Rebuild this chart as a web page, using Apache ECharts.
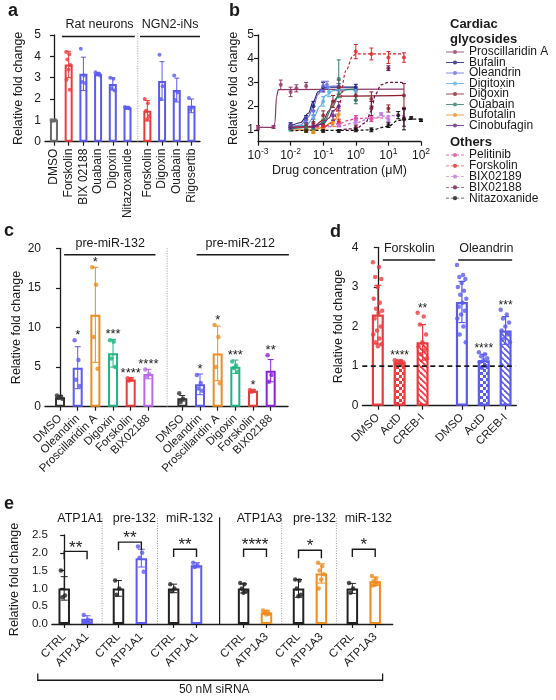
<!DOCTYPE html>
<html><head><meta charset="utf-8">
<script src="https://cdn.jsdelivr.net/npm/echarts@6/dist/echarts.min.js"></script>
<style>html,body{margin:0;padding:0;background:#fff}#c{width:556px;height:700px}</style>
</head><body><div id="c"></div>
<script>
// ================= DATA =================
// Panel a
const catsA = ['DMSO','Forskolin','BIX 02188','Ouabain','Digoxin','Nitazoxanide','Forskolin','Digoxin','Ouabain','Rigosertib'];
const meanA = [1.0, 3.62, 3.18, 3.18, 2.7, 1.6, 1.45, 2.85, 2.42, 1.68];
const sdA   = [0.02, 0.62, 0.78, 0.05, 0.28, 0.04, 0.48, 0.9, 0.56, 0.32];
const ptsA  = [[1.02,1.0,0.98,1.0],[4.2,4.1,3.85,3.6,3.37,2.9,2.43],[4.35,3.1,2.8,2.75],[3.25,3.2,3.15,3.1],
               [3.0,2.95,2.5,2.4],[1.63,1.6,1.58,1.55],[2.0,1.8,1.45,1.2,1.05],[4.07,2.6,2.0],[3.1,2.3,1.95],[2.05,1.6,1.5]];
const groupsA = ['Rat neurons','NGN2-iNs'];

// Panel b
const namesB = ['Proscillaridin A','Bufalin','Oleandrin','Digitoxin','Digoxin','Ouabain','Bufotalin','Cinobufagin',
                'Pelitinib','Forskolin','BIX02189','BIX02188','Nitazoxanide'];
const xTicksB = [0.001,0.01,0.1,1,10,100];
const yTicksB = [1,2,3,4,5];
// points: [concentration (µM), mean, sd]
const ptsProscillaridin = [[0.001,1.1,0.08],[0.003,1.12,0.06],[0.005,2.9,0.2],[0.01,2.6,0.2],[0.015,2.75,0.15],[0.03,2.85,0.15]];
const ptsBufalin       = [[0.01,1.2,0.1],[0.03,1.45,0.15],[0.05,2.0,0.2],[0.1,2.8,0.2],[0.3,2.8,0.15],[1,2.8,0.12]];
const ptsOleandrin     = [[0.01,1.15,0.1],[0.03,1.4,0.15],[0.05,1.8,0.2],[0.1,2.85,0.2],[0.13,2.9,0.15],[0.3,2.8,0.15]];
const ptsDigitoxin     = [[0.01,1.1,0.08],[0.05,1.5,0.15],[0.1,2.2,0.2],[0.15,2.6,0.2],[0.3,2.7,0.15],[1,2.65,0.1]];
const ptsDigoxin       = [[0.01,1.1,0.1],[0.03,1.15,0.1],[0.05,1.3,0.15],[0.1,1.6,0.2],[0.2,2.2,0.25],[0.3,2.8,0.3],[1,2.45,0.2],[3,2.3,0.3],[10,1.9,0.15],[30,2.45,0.5]];
const ptsOuabain       = [[0.01,1.05,0.1],[0.03,1.1,0.1],[0.05,1.0,0.1],[0.1,1.3,0.15],[0.3,3.15,0.8],[1,2.25,0.15]];
const ptsBufotalin     = [[0.03,0.95,0.05],[0.05,0.92,0.08],[0.1,1.1,0.1],[0.2,1.3,0.15],[0.3,1.65,0.25]];
const ptsCinobufagin   = [[0.01,1.1,0.08],[0.05,1.15,0.1],[0.1,1.2,0.1],[0.2,1.6,0.2],[0.3,2.0,0.2]];
const ptsPelitinib     = [[0.3,1.25,0.1],[1,1.5,0.1],[3,1.45,0.1]];
const ptsForskolinB    = [[0.1,1.15,0.1],[0.3,1.3,0.15],[1,4.3,0.3],[3,4.2,0.25],[10,4.05,0.25],[30,4.05,0.2]];
const ptsBIX02189      = [[0.3,1.2,0.08],[1,1.35,0.1],[6,1.67,0.05],[10,1.45,0.1]];
const ptsBIX02188      = [[1,1.1,0.1],[3,1.9,0.3],[10,3.6,0.1],[30,1.5,0.35]];
const ptsNitazoxanide  = [[0.03,0.95,0.05],[0.1,0.95,0.05],[0.3,0.95,0.05],[1,1.0,0.08],[3,1.0,0.08],[10,1.2,0.1],[20,1.62,0.15],[30,1.45,0.45],[50,1.5,0.05],[100,1.4,0.05]];
// fitted curves: [concentration, value]
const crvProscillaridin = [[0.001,1.1],[0.003,1.1],[0.0033,1.3],[0.0037,2.4],[0.0042,2.7],[30,2.72]];
const crvBufalin       = [[0.01,1.15],[0.02,1.3],[0.035,1.7],[0.05,2.2],[0.07,2.6],[0.1,2.78],[0.2,2.8],[1,2.8]];
const crvOleandrin     = [[0.01,1.1],[0.02,1.2],[0.035,1.55],[0.05,2.0],[0.07,2.5],[0.1,2.8],[0.2,2.85],[0.3,2.85]];
const crvDigitoxin     = [[0.01,1.1],[0.03,1.2],[0.05,1.5],[0.08,2.0],[0.12,2.45],[0.2,2.65],[0.3,2.7],[1,2.7]];
const crvDigoxin       = [[0.01,1.1],[0.05,1.15],[0.1,1.4],[0.15,1.8],[0.2,2.2],[0.3,2.42],[30,2.45]];
const crvOuabain       = [[0.01,1.05],[0.05,1.1],[0.1,1.3],[0.2,2.0],[0.3,2.5],[0.5,2.7],[1,2.72]];
const crvBufotalin     = [[0.01,1.0],[0.05,1.0],[0.1,1.1],[0.2,1.35],[0.3,1.7]];
const crvCinobufagin   = [[0.01,1.1],[0.05,1.15],[0.1,1.25],[0.15,1.5],[0.2,1.8],[0.3,2.05]];
const crvPelitinib     = [[0.03,1.1],[0.1,1.15],[0.3,1.25],[0.6,1.4],[1,1.48],[3,1.5],[10,1.5]];
const crvForskolinB    = [[0.01,1.1],[0.1,1.12],[0.2,1.3],[0.3,2.0],[0.5,3.5],[0.8,4.1],[1,4.2],[30,4.2]];
const crvBIX02189      = [[0.1,1.1],[0.3,1.15],[1,1.3],[3,1.5],[10,1.6],[30,1.6]];
const crvBIX02188      = [[0.3,1.0],[1,1.05],[2,1.3],[3,1.8],[4,2.5],[6,2.9],[10,3.0],[25,3.0],[30,2.95]];
const crvNitazoxanide  = [[0.01,0.97],[1,0.98],[3,1.0],[10,1.15],[20,1.4],[50,1.45],[100,1.45]];

// Panel c
const catsC  = ['DMSO','Oleandrin','Proscillaridin A','Digoxin','Forskolin','BIX02188'];
const meanC1 = [1.2, 4.92, 11.6, 6.75, 3.45, 4.12];
const sdC1   = [0.2, 2.65, 6.0, 1.75, 0.2, 0.6];
const ptsC1  = [[1.4,1.3,1.1,1.0],[8.4,5.9,3.4,2.6],[17.6,15.4,8.8,4.8],[8.4,8.2,6.1,5.0],[3.6,3.5,3.3],[4.7,4.1,3.8]];
const sigC1  = ['','*','*','***','****','****'];
const meanC2 = [1.06, 2.82, 6.73, 5.04, 2.0, 4.55];
const sdC2   = [0.35, 1.3, 3.45, 0.85, 0.15, 1.4];
const ptsC2  = [[1.7,1.0,0.6],[4.0,3.0,2.3,2.0],[10.3,8.8,5.0,2.95],[5.7,5.2,4.9,4.4],[2.1,2.0,1.9],[6.5,4.0,3.15]];
const sigC2  = ['','*','*','***','*','**'];
const groupsC = ['pre-miR-132','pre-miR-212'];

// Panel d
const catsD = ['DMSO','ActD','CREB-I','DMSO','ActD','CREB-I'];
const meanD = [2.3, 1.1, 1.6, 2.62, 1.15, 1.9];
const sdD   = [0.74, 0.05, 0.45, 0.52, 0.15, 0.35];
const ptsD  = [[3.62,3.5,3.25,3.2,3.0,2.7,2.6,2.45,2.4,2.35,2.2,2.0,1.9,1.8,1.7,1.6,1.55,1.5],
               [1.15,1.13,1.12,1.1,1.08,1.05,1.02],
               [2.35,2.25,2.05,1.8,1.6,1.5,1.4,1.3,1.2],
               [3.55,3.3,3.25,3.2,3.1,3.0,2.9,2.8,2.7,2.6,2.5,2.4,2.3,2.2,2.0,1.8,1.6],
               [1.35,1.3,1.25,1.2,1.15,1.1,1.0,0.95],
               [2.42,2.3,2.2,2.1,2.0,1.9,1.8,1.7,1.6]];
const sigD  = ['','****','**','','****','***'];
const groupsD = ['Forskolin','Oleandrin'];

// Panel e
const catsE = ['CTRL','ATP1A1','CTRL','ATP1A1','CTRL','ATP1A1','CTRL','ATP1A3','CTRL','ATP1A3','CTRL','ATP1A3'];
const meanE = [1.0,0.15, 1.0,1.85, 1.0,1.65, 1.0,0.32, 1.0,1.42, 1.0,1.2];
const sdE   = [0.33,0.08, 0.22,0.25, 0.12,0.07, 0.13,0.05, 0.25,0.27, 0.14,0.12];
const ptsE  = [[1.5,0.8,0.75],[0.25,0.12,0.08],[1.22,1.0,0.82],[2.18,2.0,1.86,1.47],[1.12,1.0,0.92],[1.72,1.65,1.6],
               [1.15,1.12,1.0,0.92,0.88],[0.38,0.35,0.32,0.28,0.27],[1.25,1.22,1.0,0.82,0.78],[1.72,1.62,1.5,1.4,1.25,1.0],
               [1.15,1.0,0.88],[1.35,1.27,1.2,1.15,1.1,1.08]];
const groupsE = ['ATP1A1','pre-132','miR-132','ATP1A3','pre-132','miR-132'];
const sigE  = ['**','**','**','****','*','*'];
const bracketE = [2.04, 2.3, 2.1, 2.1, 2.07, 2.1];
const footE = '50 nM siRNA';

// ================= LAYOUT / STYLE =================
const FONT = '"Liberation Sans", Arial, sans-serif';
const INK = '#1a1a1a';
const RED = '#ec3b3d', BLUE = '#5b5bee', GRAY = '#6b6b6b', ORANGE = '#f08c1e', GREEN = '#1fb582';
const colorsA = [GRAY, RED, BLUE, BLUE, BLUE, BLUE, RED, BLUE, BLUE, BLUE];
const posA = [0,1,2,3,4,5,6.35,7.35,8.35,9.35];
const colorsC = ['#333333', BLUE, ORANGE, GREEN, RED, '#b86ae8', '#333333', BLUE, ORANGE, GREEN, RED, '#8c22d6'];
const posC = [0,1,2,3,4,5,6.92,7.92,8.92,9.92,10.92,11.92];
const colorsD = [RED,RED,RED,BLUE,BLUE,BLUE];
const posD = [0,1,2.05,3.85,4.85,5.85];
const colorsE = ['#222',BLUE,'#222',BLUE,'#222',BLUE,'#222',ORANGE,'#222',ORANGE,'#222',ORANGE];
const pairStartE = [0,2.42,4.88,8.0,10.45,12.85];
const posE = [];
pairStartE.forEach(p => { posE.push(p, p + 1.02); });
const colorsB = ['#8e3a68','#1c1c78','#6c6ce2','#5db0e2','#8c1c2c','#2f7c6a','#e88c22','#6c2282','#e2449c','#e42424','#c474e4','#6c1046','#111111'];
const pointsB = [ptsProscillaridin,ptsBufalin,ptsOleandrin,ptsDigitoxin,ptsDigoxin,ptsOuabain,ptsBufotalin,ptsCinobufagin,
                 ptsPelitinib,ptsForskolinB,ptsBIX02189,ptsBIX02188,ptsNitazoxanide];
const curvesB = [crvProscillaridin,crvBufalin,crvOleandrin,crvDigitoxin,crvDigoxin,crvOuabain,crvBufotalin,crvCinobufagin,
                 crvPelitinib,crvForskolinB,crvBIX02189,crvBIX02188,crvNitazoxanide];

function fnt(size, bold){ return (bold ? 'bold ' : '') + size + 'px ' + FONT; }

// fill patterns for panel d
function checker(color){
  const c = document.createElement('canvas'); c.width = 6; c.height = 6;
  const g = c.getContext('2d'); g.fillStyle = '#fff'; g.fillRect(0,0,6,6);
  g.fillStyle = color; g.fillRect(0,0,3,3); g.fillRect(3,3,3,3);
  return {image: c, repeat: 'repeat'};
}
function stripes(color){
  const c = document.createElement('canvas'); c.width = 6; c.height = 6;
  const g = c.getContext('2d'); g.fillStyle = '#fff'; g.fillRect(0,0,6,6);
  g.strokeStyle = color; g.lineWidth = 1.8;
  for (let k = -1; k <= 1; k++) { g.beginPath(); g.moveTo(0, k*6); g.lineTo(6, 6 + k*6); g.stroke(); }
  return {image: c, repeat: 'repeat'};
}
const fillsD = ['#fff', checker(RED), stripes(RED), '#fff', checker(BLUE), stripes(BLUE)];

// ================= HELPERS =================
function lookup(xs, cats){ return v => { const i = xs.findIndex(x => Math.abs(x - v) < 1e-6); return i >= 0 ? cats[i] : ''; }; }

function xCat(gi, min, max, xs, cats, rotate, size, margin){
  return {gridIndex: gi, type: 'value', min, max, splitLine: {show: false},
    axisLine: {onZero: true, lineStyle: {color: INK, width: 1.3}},
    axisTick: {show: true, customValues: xs, length: 4, lineStyle: {color: INK, width: 1.2}},
    axisLabel: {customValues: xs, formatter: lookup(xs, cats), rotate, margin: margin, fontSize: size, fontFamily: FONT, color: INK}};
}
function yVal(gi, min, max, interval, gap, size, fmt){
  return {gridIndex: gi, type: 'value', min, max, interval, splitLine: {show: false},
    name: 'Relative fold change', nameLocation: 'middle', nameGap: gap,
    nameTextStyle: {fontSize: 12.5, fontFamily: FONT, color: INK},
    axisLine: {show: true, lineStyle: {color: INK, width: 1.3}},
    axisTick: {show: true, length: 4, lineStyle: {color: INK, width: 1.2}},
    axisLabel: {fontSize: size, fontFamily: FONT, color: INK, margin: 4, formatter: fmt}};
}
function barSeries(gi, xs, means, colors, fills, barW, bw){
  return {type: 'bar', xAxisIndex: gi, yAxisIndex: gi, barWidth: barW, z: 2, silent: true,
    data: xs.map((x, i) => ({value: [x, means[i]], itemStyle: {color: fills ? fills[i] : '#fff', borderColor: colors[i], borderWidth: bw}}))};
}
function errSeries(gi, xs, means, sds, colors, capW, lw, z){
  return {type: 'custom', xAxisIndex: gi, yAxisIndex: gi, z: z || 4, silent: true,
    data: xs.map((x, i) => [x, means[i] - sds[i], means[i] + sds[i], i]),
    encode: {x: 0, y: [1, 2]},
    renderItem: (p, api) => {
      const x = api.value(0), lo = api.coord([x, api.value(1)]), hi = api.coord([x, api.value(2)]);
      const c = colors[api.value(3)];
      const st = {stroke: c, lineWidth: lw};
      return {type: 'group', children: [
        {type: 'line', shape: {x1: lo[0], y1: lo[1], x2: hi[0], y2: hi[1]}, style: st},
        {type: 'line', shape: {x1: hi[0]-capW/2, y1: hi[1], x2: hi[0]+capW/2, y2: hi[1]}, style: st},
        {type: 'line', shape: {x1: lo[0]-capW/2, y1: lo[1], x2: lo[0]+capW/2, y2: lo[1]}, style: st}]};
    }};
}
function ptSeries(gi, xs, pts, colors, spread, size){
  const data = [];
  pts.forEach((arr, i) => arr.forEach((v, j) => {
    const off = arr.length > 1 ? (((j * 0.618034) % 1) - 0.5) * spread : 0;
    data.push({value: [xs[i] + off, v], itemStyle: {color: colors[i]}});
  }));
  return {type: 'scatter', xAxisIndex: gi, yAxisIndex: gi, symbolSize: size, z: 5, silent: true, data};
}
function annotSeries(gi, specs){
  return {type: 'custom', xAxisIndex: gi, yAxisIndex: gi, z: 6, silent: true, clip: false,
    data: specs.map(s => { const p = s.pts ? s.pts[0] : s.at; return [p[0], p[1]]; }),
    encode: {x: 0, y: 1},
    renderItem: (params, api) => {
      const s = specs[params.dataIndex];
      if (s.text !== undefined) {
        const c = api.coord(s.at);
        return {type: 'text', x: c[0], y: c[1] + (s.dy || 0),
          style: {text: s.text, fill: s.color || INK, font: fnt(s.size || 12.5), align: s.align || 'center', verticalAlign: s.va || 'middle'}};
      }
      const pts = s.pts.map(p => api.coord(p));
      return {type: 'polyline', shape: {points: pts},
        style: {stroke: s.color || INK, lineWidth: s.lw || 1.3, lineDash: s.dash || null, fill: null}};
    }};
}
function topOf(means, sds, pts, i){ return Math.max(means[i] + sds[i], Math.max.apply(null, pts[i])); }

// ================= ANNOTATIONS =================
const annA = [
  {pts: [[0.54,4.93],[5.5,4.93]], lw: 1.5},
  {pts: [[5.85,4.93],[9.93,4.93]], lw: 1.5},
  {text: groupsA[0], at: [3.1,4.93], dy: -5, va: 'bottom'},
  {text: groupsA[1], at: [7.9,4.93], dy: -5, va: 'bottom'},
  {pts: [[5.7,0],[5.7,5.1]], color: '#999', lw: 1, dash: [1,1.5]}
];
const annC = [
  {pts: [[0.23,19.2],[5.4,19.2]], lw: 1.5},
  {pts: [[7.73,19.2],[12.95,19.2]], lw: 1.5},
  {text: groupsC[0], at: [2.84,19.2], dy: -5, va: 'bottom'},
  {text: groupsC[1], at: [10.2,19.2], dy: -5, va: 'bottom'},
  {pts: [[6.06,0],[6.06,20]], color: '#999', lw: 1, dash: [1,1.5]}
];
const meanCall = meanC1.concat(meanC2), sdCall = sdC1.concat(sdC2), ptsCall = ptsC1.concat(ptsC2), sigCall = sigC1.concat(sigC2);
sigCall.forEach((s, i) => { if (s) annC.push({text: s, at: [posC[i], topOf(meanCall, sdCall, ptsCall, i)], dy: 2, va: 'bottom', size: 13}); });

const annD = [
  {pts: [[0.23,3.68],[2.63,3.68]], lw: 1.5},
  {pts: [[3.68,3.68],[6.15,3.68]], lw: 1.5},
  {text: groupsD[0], at: [1.44,3.68], dy: -5, va: 'bottom'},
  {text: groupsD[1], at: [4.97,3.68], dy: -5, va: 'bottom'},
  {pts: [[-0.71,1],[6.3,1]], lw: 1.6, dash: [5,3.5]}
];
sigD.forEach((s, i) => { if (s) annD.push({text: s, at: [posD[i], topOf(meanD, sdD, ptsD, i)], dy: 2, va: 'bottom', size: 12}); });

const annE = [];
[1.69, 4.16, 9.7, 12.14].forEach(x => annE.push({pts: [[x,0],[x,3.0]], color: '#999', lw: 1, dash: [1,1.5]}));
annE.push({pts: [[6.93,0],[6.93,3.0]], lw: 1.2});
pairStartE.forEach((p, k) => {
  const x1 = posE[2*k], x2 = posE[2*k+1], by = bracketE[k];
  annE.push({pts: [[x1,by-0.22],[x1,by],[x2,by],[x2,by-0.22]], lw: 1.4});
  annE.push({text: sigE[k], at: [(x1+x2)/2, by], dy: 5, va: 'bottom', size: 17});
  annE.push({text: groupsE[k], at: [(x1+x2)/2 + 0.2, 2.96], va: 'middle', size: 12.5});
});
annE.push({pts: [[-1.18,-1.39],[-1.18,-1.58],[14.2,-1.58],[14.2,-1.39]], lw: 1.3});
annE.push({text: footE, at: [6.69,-1.58], dy: 9, va: 'middle', size: 12});

// ================= PANEL B SERIES =================
const ICON_SOLID = 'path://M0,4.3H30V5.7H0Z M15,1.5A3.5,3.5,0,1,1,14.99,1.5Z';
const ICON_DASH = 'path://M0,4.3H5V5.7H0Z M8,4.3H11.5V5.7H8Z M18.5,4.3H22V5.7H18.5Z M25,4.3H30V5.7H25Z M15,1.5A3.5,3.5,0,1,1,14.99,1.5Z';
const seriesB = [];
namesB.forEach((n, k) => {
  const dashed = k >= 8;
  seriesB.push({type: 'line', name: n + ' fit', xAxisIndex: 1, yAxisIndex: 1, data: curvesB[k], showSymbol: false,
    smooth: 0.35, smoothMonotone: 'x', silent: true, z: 3,
    lineStyle: {color: colorsB[k], width: 1.2, type: dashed ? [3, 2] : 'solid'}});
  const pts = pointsB[k];
  seriesB.push(errSeries(1, pts.map(p => p[0]), pts.map(p => p[1]), pts.map(p => p[2]), pts.map(() => colorsB[k]), 4, 1, 4));
  seriesB.push({type: 'scatter', name: n, xAxisIndex: 1, yAxisIndex: 1, symbolSize: 4, z: 5, silent: true,
    itemStyle: {color: colorsB[k]}, data: pts.map(p => [p[0], p[1]])});
});

// ================= OPTION =================
const option = {
  animation: false,
  backgroundColor: '#fff',
  textStyle: {fontFamily: FONT},
  title: [
    {text: 'a', left: 8, top: 2, padding: 0, textStyle: {fontSize: 18, fontWeight: 'bold', color: INK, fontFamily: FONT}},
    {text: 'b', left: 229, top: 2, padding: 0, textStyle: {fontSize: 18, fontWeight: 'bold', color: INK, fontFamily: FONT}},
    {text: 'c', left: 4, top: 222, padding: 0, textStyle: {fontSize: 18, fontWeight: 'bold', color: INK, fontFamily: FONT}},
    {text: 'd', left: 330, top: 223, padding: 0, textStyle: {fontSize: 18, fontWeight: 'bold', color: INK, fontFamily: FONT}},
    {text: 'e', left: 4, top: 495, padding: 0, textStyle: {fontSize: 18, fontWeight: 'bold', color: INK, fontFamily: FONT}},
    {text: 'Cardiac\nglycosides', left: 450, top: 17, padding: 0, textStyle: {fontSize: 13, fontWeight: 'bold', lineHeight: 15, color: INK, fontFamily: FONT}},
    {text: 'Others', left: 450, top: 136, padding: 0, textStyle: {fontSize: 13, fontWeight: 'bold', color: INK, fontFamily: FONT}}
  ],
  legend: [
    {orient: 'vertical', left: 446, top: 46, padding: 0, itemWidth: 18, itemHeight: 6, itemGap: -1.5, selectedMode: false,
      textStyle: {fontSize: 12, fontFamily: FONT, color: INK},
      data: namesB.slice(0, 8).map(n => ({name: n, icon: ICON_SOLID}))},
    {orient: 'vertical', left: 446, top: 149, padding: 0, itemWidth: 18, itemHeight: 6, itemGap: -1.2, selectedMode: false,
      textStyle: {fontSize: 12, fontFamily: FONT, color: INK},
      data: namesB.slice(8).map(n => ({name: n, icon: ICON_DASH}))}
  ],
  grid: [
    {left: 45, top: 35, width: 155, height: 106.7},
    {left: 258, top: 35, width: 163, height: 106.7},
    {left: 45, top: 248.3, width: 243, height: 158.4},
    {left: 362.3, top: 247.3, width: 154, height: 158.4},
    {left: 49.3, top: 535, width: 343.4, height: 89}
  ],
  xAxis: [
    xCat(0, -0.61, 9.93, posA, catsA, 90, 12, 7),
    {gridIndex: 1, type: 'log', logBase: 10, min: 0.001, max: 100, splitLine: {show: false},
      name: 'Drug concentration (μM)', nameLocation: 'middle', nameGap: 22,
      nameTextStyle: {fontSize: 12.5, fontFamily: FONT, color: INK},
      axisLine: {onZero: false, lineStyle: {color: INK, width: 1.3}},
      axisTick: {customValues: xTicksB, length: 4, lineStyle: {color: INK, width: 1.2}},
      minorTick: {show: false},
      axisLabel: {customValues: xTicksB, margin: 5, fontSize: 12, fontFamily: FONT, color: INK,
        formatter: v => '10{s|' + Math.round(Math.log10(v)) + '}',
        rich: {s: {fontSize: 8.5, fontFamily: FONT, color: INK, padding: [0, 0, 9, 0]}}}},
    xCat(2, -0.85, 12.9, posC, catsC.concat(catsC), 45, 11.5, 10),
    xCat(3, -0.71, 6.34, posD, catsD, 45, 11.5, 10),
    xCat(4, -0.55, 14.65, posE, catsE, 45, 11.5, 11)
  ],
  yAxis: [
    yVal(0, 0, 5, 1, 20, 12),
    {gridIndex: 1, type: 'value', min: 0.5, max: 5, splitLine: {show: false},
      name: 'Relative fold change', nameLocation: 'middle', nameGap: 18,
      nameTextStyle: {fontSize: 12.5, fontFamily: FONT, color: INK},
      axisLine: {show: true, onZero: false, lineStyle: {color: INK, width: 1.3}},
      axisTick: {show: true, customValues: yTicksB, length: 4, lineStyle: {color: INK, width: 1.2}},
      axisLabel: {customValues: yTicksB, fontSize: 12, fontFamily: FONT, color: INK, margin: 4}},
    yVal(2, 0, 20, 5, 22, 12),
    yVal(3, 0, 4, 1, 17, 12),
    yVal(4, 0, 2.5, 0.5, 24, 11.5, v => v.toFixed(1))
  ],
  series: [
    barSeries(0, posA, meanA, colorsA, null, 8, 2),
    errSeries(0, posA, meanA, sdA, colorsA, 5, 1),
    ptSeries(0, posA, ptsA, colorsA, 0.35, 4),
    annotSeries(0, annA),

    ...seriesB,

    barSeries(2, posC, meanCall, colorsC, null, 10, 2),
    errSeries(2, posC, meanCall, sdCall, colorsC, 6, 1),
    ptSeries(2, posC, ptsCall, colorsC, 0.35, 4.5),
    annotSeries(2, annC),

    barSeries(3, posD, meanD, colorsD, fillsD, 12, 2.2),
    errSeries(3, posD, meanD, sdD, colorsD, 7, 1.2),
    ptSeries(3, posD, ptsD, colorsD, 0.45, 4.5),
    annotSeries(3, annD),

    barSeries(4, posE, meanE, colorsE, null, 11.5, 2),
    errSeries(4, posE, meanE, sdE, colorsE, 7, 1),
    ptSeries(4, posE, ptsE, colorsE, 0.3, 4.5),
    annotSeries(4, annE)
  ]
};
const chart = echarts.init(document.getElementById('c'), null, {renderer: 'canvas', width: 556, height: 700});
chart.setOption(option);
</script>
</body></html>
